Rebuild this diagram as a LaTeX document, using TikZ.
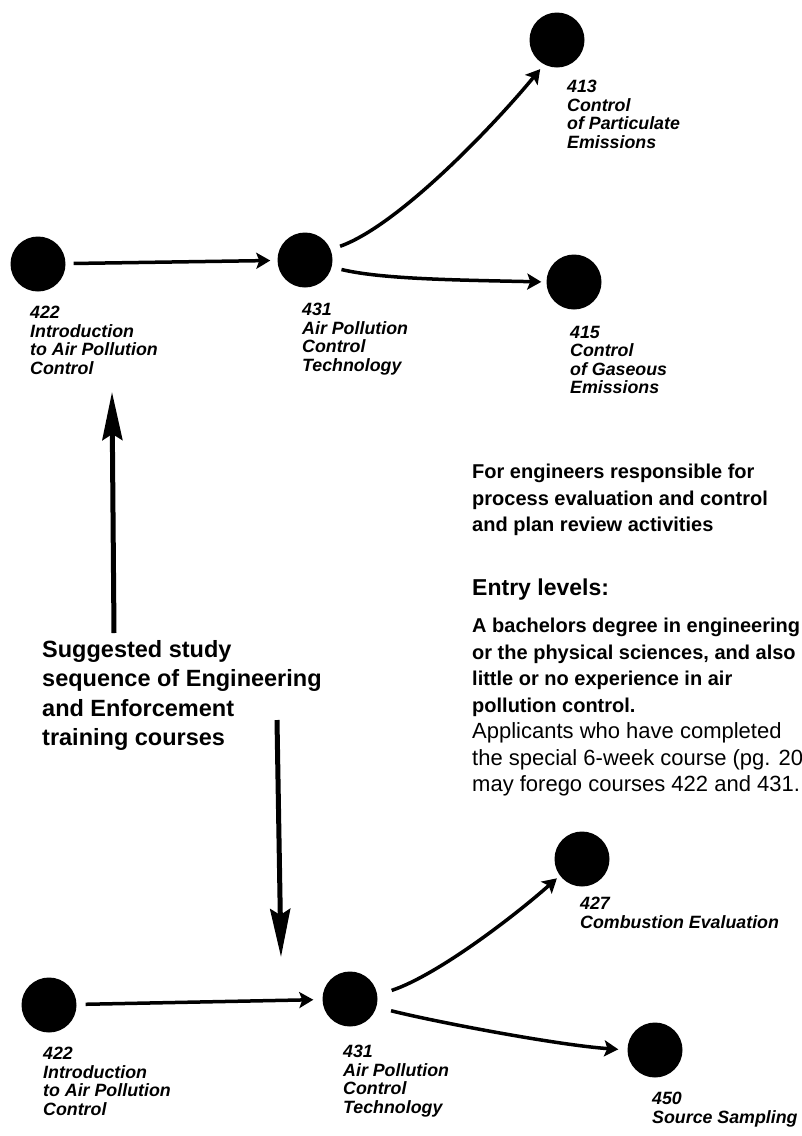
\documentclass[tikz,border=0pt]{standalone}
\usepackage{fontspec}
\setmainfont{Liberation Sans}
\usetikzlibrary{arrows.meta}

\begin{document}
\begin{tikzpicture}[x=1pt, y=-1pt,
  dot/.style={circle, fill=black, inner sep=0pt, minimum size=55pt},
  lbl/.style={anchor=north west, inner sep=0pt, align=left, font=\fontsize{17.8}{18.5}\selectfont\bfseries\itshape},
  note/.style={anchor=north west, inner sep=0pt, align=left},
  link/.style={-{Stealth[length=14pt, width=16pt, inset=3pt]}, line width=3.5pt},
  seq/.style={-{Stealth[length=48pt, width=20pt, inset=6pt]}, line width=5pt}
]
\clip (0,0) rectangle (802,1136);
% ---------- upper sequence ----------
\node[dot] (a422) at (38,264) {};
\node[dot] (a431) at (305,260) {};
\node[dot] (a413) at (557,40) {};
\node[dot] (a415) at (574,282) {};
\node[lbl] (t422a) at (30,306) {422\\Introduction\\to Air Pollution\\Control};
\node[lbl] (t431a) at (302,303) {431\\Air Pollution\\Control\\Technology};
\node[lbl] (t413) at (567,80) {413\\Control\\of Particulate\\Emissions};
\node[lbl] (t415) at (570,326) {415\\Control\\of Gaseous\\Emissions};
\draw[link, shorten <=8pt, shorten >=7pt] (a422) -- (a431);
\draw[link, shorten <=10pt, shorten >=6pt] (a431.22) .. controls +(70,-25) and +(-45,55) .. (a413.242);
\draw[link, shorten <=10pt, shorten >=5pt] (a431.-15) .. controls +(50,12) and +(-90,-2) .. (a415.west);
% ---------- study sequence ----------
\node[note, font=\fontsize{23.5}{29.5}\selectfont\bfseries] (seqtxt) at (42,640) {Suggested study\\sequence of Engineering\\and Enforcement\\training courses};
\coordinate (upfoot) at (114,633);
\coordinate (uptip) at (112,392);
\coordinate (dnfoot) at (277,720);
\coordinate (dntip) at (281,957);
\draw[seq] (upfoot) -- (uptip);
\draw[seq] (dnfoot) -- (dntip);
% ---------- notes ----------
\node[note, font=\fontsize{20}{26.5}\selectfont\bfseries] (who) at (472,464) {For engineers responsible for\\process evaluation and control\\and plan review activities};
\node[note, font=\fontsize{23}{26.5}\selectfont\bfseries] (entry) at (472,579) {Entry levels:};
\node[note, font=\fontsize{20}{26.5}\selectfont] (req) at (472,618) {\textbf{A bachelors degree in engineering}\\\textbf{or the physical sciences, and also}\\\textbf{little or no experience in air}\\\textbf{pollution control.}\\\fontsize{22}{26.5}\selectfont Applicants who have completed\\\fontsize{22}{26.5}\selectfont the special 6-week course (pg. 20\\\fontsize{22}{26.5}\selectfont may forego courses 422 and 431.};
% ---------- lower sequence ----------
\node[dot] (b422) at (49,1005) {};
\node[dot] (b431) at (350,999) {};
\node[dot] (b427) at (582,859) {};
\node[dot] (b450) at (655,1050) {};
\node[lbl] (t422b) at (43,1047) {422\\Introduction\\to Air Pollution\\Control};
\node[lbl] (t431b) at (343,1045) {431\\Air Pollution\\Control\\Technology};
\node[lbl] (t427) at (580,897) {427\\Combustion Evaluation};
\node[lbl] (t450) at (652,1092) {450\\Source Sampling};
\draw[link, shorten <=9pt, shorten >=9pt] (b422) -- (b431);
\draw[link, shorten <=15pt, shorten >=4pt] (b431.8) .. controls +(60,-20) and +(-45,40) .. (b427.217);
\draw[link, shorten <=15pt, shorten >=9pt] (b431.-17) .. controls +(60,15) and +(-70,-5) .. (b450.west);
\end{tikzpicture}
\end{document}
